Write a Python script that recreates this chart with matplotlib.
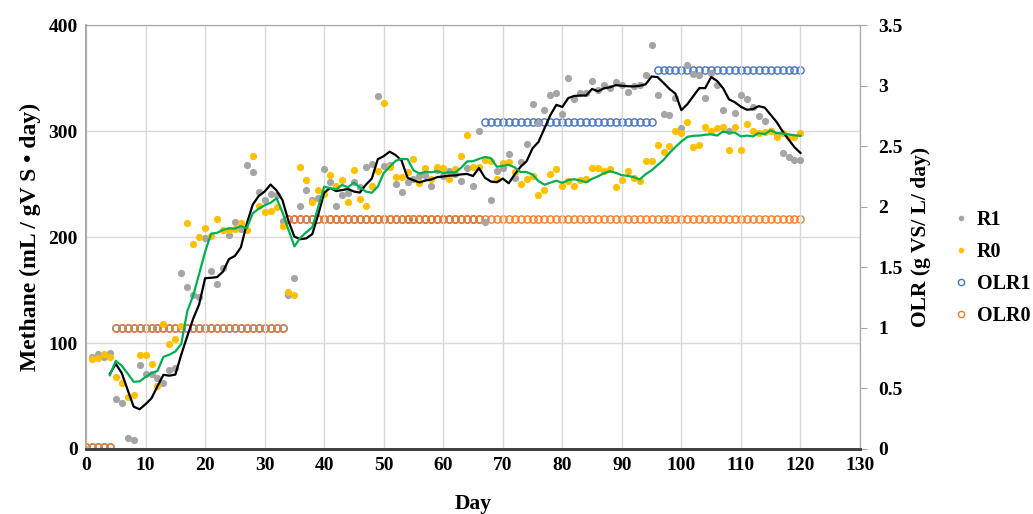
import matplotlib
matplotlib.use('Agg')
import matplotlib.pyplot as plt
from matplotlib.lines import Line2D
import numpy as np
import pandas as pd

plt.rcParams['font.family'] = ['Liberation Serif', 'DejaVu Serif']
plt.rcParams['font.weight'] = 'bold'

days = np.arange(0, 121)

# methane yield, reactor R1 (mL / gVS day)
r1 = [0, 87, 90, 87, 91, 47, 43, 10, 8.5, 79,
      71, 71, 67, 62, 75, 76, 166, 153, 145, 143,
      199, 168, 156, 171, 202, 214, 208, 268, 261, 243,
      235, 241, 240, 215, 145, 161, 229, 244, 235, 237,
      264, 252, 229, 240, 242, 252, 247, 266, 269, 333,
      267, 268, 250, 243, 252, 255, 258, 259, 248, 263,
      258, 262, 260, 253, 265, 248, 300, 214, 235, 262,
      265, 278, 256, 271, 288, 326, 308, 320, 334, 336,
      316, 350, 330, 336, 336, 347, 339, 344, 341, 346,
      344, 337, 343, 344, 353, 381, 334, 316, 315, 331,
      303, 362, 354, 353, 331, 355, 344, 320, 300, 317,
      334, 330, 323, 314, 310, 300, 296, 279, 276, 273,
      273]

# methane yield, reactor R0
r0 = [0, 85, 86, 90, 87, 68, 62, 49, 51, 89,
      89, 80, 59, 118, 99, 104, 116, 213, 193, 200,
      209, 201, 217, 207, 207, 208, 213, 207, 277, 229,
      224, 225, 228, 210, 148, 145, 266, 254, 233, 244,
      241, 259, 248, 254, 233, 263, 236, 229, 248, 262,
      327, 266, 257, 257, 261, 274, 251, 265, 255, 266,
      265, 255, 264, 277, 296, 266, 266, 273, 272, 255,
      270, 271, 261, 250, 255, 258, 240, 244, 260, 264,
      248, 253, 248, 254, 255, 265, 265, 262, 264, 247,
      254, 262, 256, 253, 272, 272, 287, 280, 286, 300,
      298, 309, 285, 287, 304, 300, 303, 304, 282, 304,
      282, 307, 300, 298, 299, 300, 294, 298, 294, 294,
      298]

# organic loading rate (g VS / L day)
olr0 = [0.015] * 5 + [1.0] * 29 + [1.9] * 87
olr1 = [0.015] * 5 + [1.0] * 29 + [1.9] * 33 + [2.7] * 29 + [3.13] * 25

gray = '#a5a5a5'
gold = '#ffc000'
blue = '#4472c4'
orng = '#ed7d31'

fig = plt.figure(figsize=(10.33, 5.14), dpi=100)
ax = fig.add_axes([0.0833, 0.1265, 0.7492, 0.8245])
ax2 = ax.twinx()

# OLR series on the secondary axis, kept underneath the methane data
ax2.plot(days, olr1, ls='none', marker='o', ms=5.2, mfc='none',
         mec=blue, mew=1.0)
ax2.plot(days, olr0, ls='none', marker='o', ms=5.2, mfc='none',
         mec=orng, mew=1.0)
ax.set_zorder(ax2.get_zorder() + 1)
ax.patch.set_visible(False)

ax.plot(days, r1, ls='none', marker='o', ms=5.2, color=gray, mec='none')
ax.plot(days, r0, ls='none', marker='o', ms=5.2, color=gold, mec='none')

# 5-day moving averages (trendlines)
ma1 = pd.Series(r1).rolling(5).mean()
ma0 = pd.Series(r0).rolling(5).mean()
ax.plot(days, ma1, color='black', lw=1.6)
ax.plot(days, ma0, color='#00b050', lw=1.6)

ax.set_xlim(0, 130)
ax.set_ylim(0, 400)
ax2.set_ylim(0, 3.5)
ax.set_xticks(range(0, 131, 10))
ax.set_yticks(range(0, 401, 100))
ax2.set_yticks(np.arange(0, 3.51, 0.5))
ax2.set_yticklabels(['0', '0.5', '1', '1.5', '2', '2.5', '3', '3.5'])

ax.grid(True, color='#d9d9d9', lw=1.0)
ax.set_axisbelow(True)

ax.tick_params(axis='both', length=0, labelsize=14, pad=6)
ax2.tick_params(axis='y', length=5, color='#a6a6a6', labelsize=14, pad=8)

for a in (ax, ax2):
    a.spines['top'].set_color('#a6a6a6')
    a.spines['right'].set_color('#a6a6a6')
    a.spines['left'].set_color('#a6a6a6')
    a.spines['bottom'].set_color('#404040')
    a.spines['bottom'].set_linewidth(2.0)
    a.spines['left'].set_linewidth(1.2)

ax.set_ylabel('Methane (mL / gV S • day)', fontsize=17, fontweight='bold',
              labelpad=5)
ax.set_xlabel('Day', fontsize=15.5, fontweight='bold', labelpad=14)
ax2.set_ylabel('OLR (g VS/ L/ day)', fontsize=15.5, fontweight='bold',
               labelpad=6)

handles = [
    Line2D([], [], ls='none', marker='o', ms=4, color=gray, mec='none', label='R1'),
    Line2D([], [], ls='none', marker='o', ms=4, color=gold, mec='none', label='R0'),
    Line2D([], [], ls='none', marker='o', ms=4.5, mfc='none', mec=blue, label='OLR1'),
    Line2D([], [], ls='none', marker='o', ms=4.5, mfc='none', mec=orng, label='OLR0'),
]
fig.legend(handles=handles, loc='center left', bbox_to_anchor=(0.924, 0.478),
           frameon=False, fontsize=14.5, handlelength=0.6, handletextpad=0.5,
           labelspacing=0.6, borderpad=0, borderaxespad=0)

fig.savefig('out.png', dpi=100)
